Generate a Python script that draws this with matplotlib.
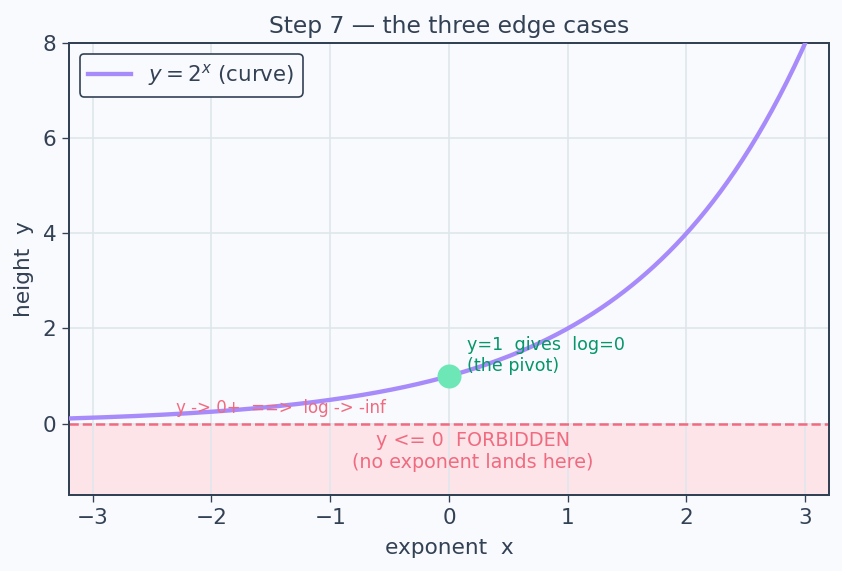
import numpy as np
import matplotlib.pyplot as plt

# curve samples
x_curve = np.linspace(-3.2, 3.0, 400)
y_curve = 2.0 ** x_curve

pivot_x = [0]
pivot_y = [1]

x_limits = (-3.2, 3.2)
y_limits = (-1.5, 8)
x_ticks = [-3, -2, -1, 0, 1, 2, 3]
y_ticks = [0, 2, 4, 6, 8]

ink = '#334155'
bg = '#f9fafd'
red = '#f06b80'

plt.rcParams['font.family'] = ['DejaVu Sans']

fig, ax = plt.subplots(figsize=(842 / 120, 571 / 120), dpi=120)
fig.patch.set_facecolor(bg)
ax.set_facecolor(bg)

# forbidden zone
ax.axhspan(y_limits[0], 0, color='#fde4e9', zorder=0)
ax.axhline(0, color=red, linestyle='--', linewidth=1.5, zorder=2)

ax.plot(x_curve, y_curve, color='#a78bfa', linewidth=2.6, label='$y = 2^x$ (curve)', zorder=3)
ax.scatter(pivot_x, pivot_y, s=180, color='#6ee7b7', zorder=4)

ax.text(0.15, 1.03, 'y=1  gives  log=0\n(the pivot)', color='#059669', fontsize=10.5,
        ha='left', va='bottom')
ax.text(-2.3, 0.33, 'y -> 0+  ==>  log -> -inf', color=red, fontsize=10,
        ha='left', va='center')
ax.text(0.2, -0.58, 'y <= 0  FORBIDDEN\n(no exponent lands here)', color=red, fontsize=11.5,
        ha='center', va='center', multialignment='center')

ax.set_xlim(*x_limits)
ax.set_ylim(*y_limits)
ax.set_xticks(x_ticks)
ax.set_yticks(y_ticks)
ax.grid(True, color='#dfe7ec', linewidth=1)
ax.set_axisbelow(True)

for s in ax.spines.values():
    s.set_color(ink)
    s.set_linewidth(1.2)
ax.tick_params(colors=ink, labelsize=13, length=4)

ax.set_xlabel('exponent  x', color=ink, fontsize=13, labelpad=6)
ax.set_ylabel('height  y', color=ink, fontsize=13, labelpad=5)
ax.set_title('Step 7 — the three edge cases', color=ink, fontsize=14)

leg = ax.legend(loc='upper left', fontsize=12.8, framealpha=1, facecolor=bg, edgecolor=ink)
leg.get_frame().set_linewidth(1.0)
for t in leg.get_texts():
    t.set_color(ink)

fig.subplots_adjust(left=69 / 842, right=829 / 842, top=1 - 43 / 571, bottom=1 - 495 / 571)
plt.savefig('out.png', dpi=120, facecolor=bg)
